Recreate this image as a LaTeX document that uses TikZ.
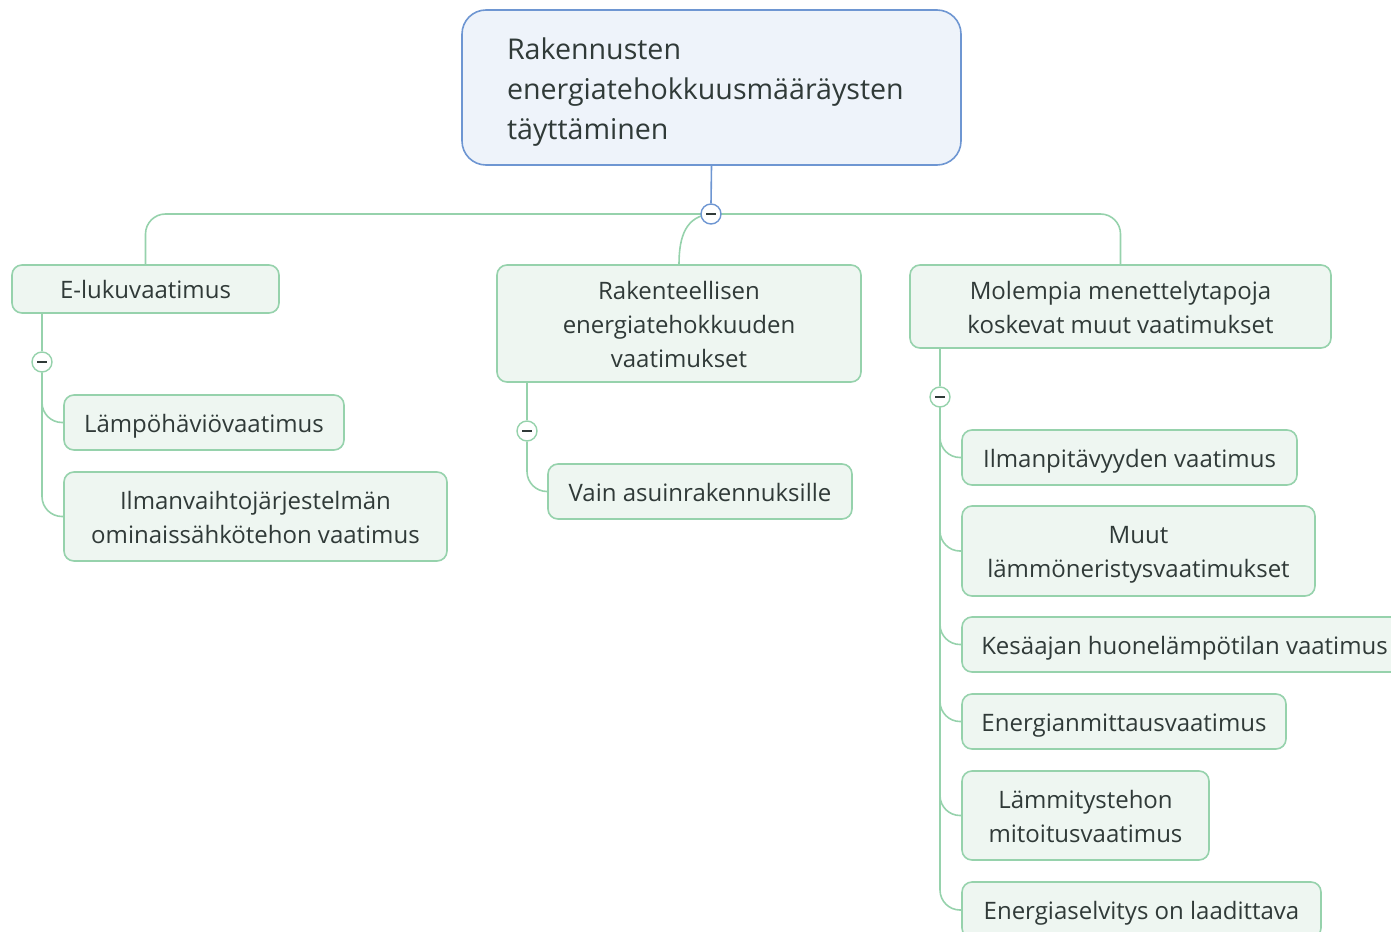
\documentclass[tikz,border=0pt]{standalone}
\usepackage{fontspec}
\setmainfont{Open Sans}
\usepackage{tikz}
\usetikzlibrary{positioning}
\definecolor{mmText}{RGB}{48,58,56}
\definecolor{mmGreen}{RGB}{150,210,172}
\definecolor{mmFill}{RGB}{238,246,241}
\definecolor{mmBlue}{RGB}{110,150,210}
\definecolor{mmBlueFill}{RGB}{238,243,250}

\begin{document}
\begin{tikzpicture}[
  x=0.5pt, y=-0.5pt,
  topic/.style={draw=mmBlue, line width=0.8pt, fill=mmBlueFill, rounded corners=12pt, text=mmText,
    text width=204.5pt, inner xsep=22.5pt, minimum height=77.5pt, align=left,
    text height=14pt, text depth=41.5pt, font=\fontsize{14.3}{20}\selectfont},
  sub/.style={draw=mmGreen, line width=0.8pt, fill=mmFill, rounded corners=5pt, text=mmText,
    align=center, inner sep=0pt, text depth=2.5pt, font=\fontsize{12}{17}\selectfont},
  one/.style={sub, text height=12pt},
  two/.style={sub, text height=29pt},
  three/.style={sub, text height=46pt},
  fold/.style={circle, draw=#1, fill=white, line width=0.7pt, minimum size=10pt, inner sep=0pt,
    path picture={\draw[line width=1pt, mmText] ([xshift=-2.5pt]path picture bounding box.center)
      -- ([xshift=2.5pt]path picture bounding box.center);}},
  link/.style={draw=mmGreen, line width=0.8pt, rounded corners=10pt},
]
\useasboundingbox (0,0) rectangle (1391,931);
\clip (0,0) rectangle (1391,931);

% central topic
\node[topic] (R) at (711.5,87.5) {Rakennusten\\ energiatehokkuusmääräysten\\ täyttäminen};

% main branches
\node[one, minimum width=133.5pt, minimum height=24pt] (A) at (145.5,289) {E-lukuvaatimus};
\node[three, minimum width=182pt, minimum height=58.5pt] (B) at (679,323.5)
  {Rakenteellisen\\ energiatehokkuuden\\ vaatimukset};
\node[two, minimum width=210.5pt, minimum height=41.5pt] (C) at (1120.5,306.5)
  {Molempia menettelytapoja\\ koskevat muut vaatimukset};

\draw[link] (711,214) coordinate (hub) -| (A.north);
\draw[link] (hub) -| (C.north);
\draw[mmGreen, line width=0.8pt] (hub) .. controls +(-25,2) and +(0,-28) .. (B.north);
\node[fold=mmBlue] (cR) at (hub) {};
\draw[mmBlue, line width=0.8pt] (R.south) -- (cR.north);

% E-lukuvaatimus
\node[fold=mmGreen] (cA) at (42,362) {};
\node[one, minimum width=140pt, minimum height=27.5pt] (A1) at (204,422.5) {Lämpöhäviövaatimus};
\node[two, minimum width=191.5pt, minimum height=44.5pt] (A2) at (255.5,516.5)
  {Ilmanvaihtojärjestelmän\\ ominaissähkötehon vaatimus};
\draw[link] (cA |- A.south) -- (cA.north);
\foreach \n in {A1,A2}
  \draw[link] (cA.south) |- (\n.west);

% Rakenteellisen energiatehokkuuden vaatimukset
\node[fold=mmGreen] (cB) at (527,431) {};
\node[one, minimum width=152pt, minimum height=27.5pt] (B1) at (700,491.5) {Vain asuinrakennuksille};
\draw[link] (cB |- B.south) -- (cB.north);
\draw[link] (cB.south) |- (B1.west);

% Molempia menettelytapoja koskevat muut vaatimukset
\node[fold=mmGreen] (cC) at (940,397) {};
\node[one, minimum width=167.5pt, minimum height=27.5pt] (C1) at (1129.5,457.5) {Ilmanpitävyyden vaatimus};
\node[two, minimum width=176.5pt, minimum height=45pt] (C2) at (1138.5,551) {Muut\\ lämmöneristysvaatimukset};
\node[one, minimum width=222.5pt, minimum height=27.5pt] (C3) at (1184.5,644.5) {Kesäajan huonelämpötilan vaatimus};
\node[one, minimum width=162pt, minimum height=27.5pt] (C4) at (1124,721.5) {Energianmittausvaatimus};
\node[two, minimum width=123.5pt, minimum height=44.5pt] (C5) at (1085.5,815.5) {Lämmitystehon\\ mitoitusvaatimus};
\node[one, minimum width=179.5pt, minimum height=28pt] (C6) at (1141.5,910) {Energiaselvitys on laadittava};
\draw[link] (cC |- C.south) -- (cC.north);
\foreach \n in {C1,C2,C3,C4,C5,C6}
  \draw[link] (cC.south) |- (\n.west);

\end{tikzpicture}
\end{document}
